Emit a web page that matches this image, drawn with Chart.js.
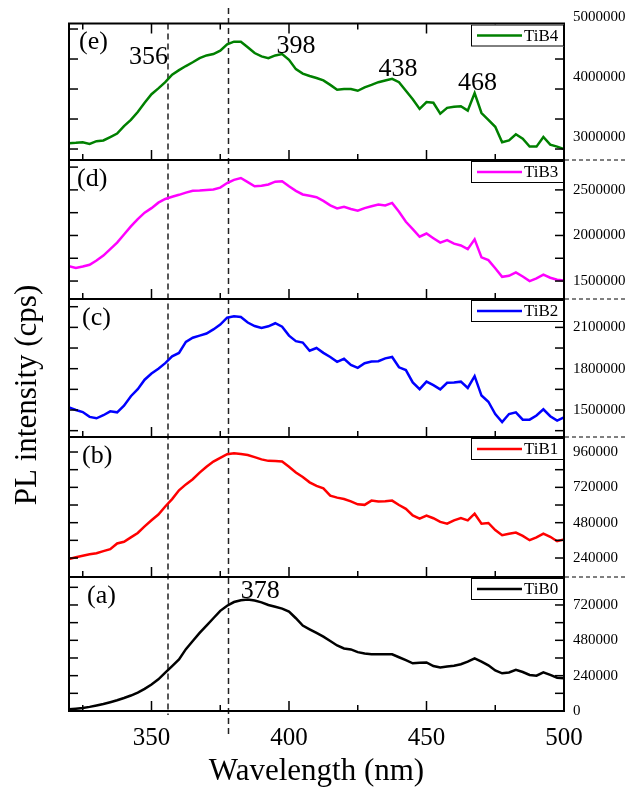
<!DOCTYPE html>
<html>
<head>
<meta charset="utf-8">
<script src="https://cdn.jsdelivr.net/npm/chart.js@4.4.1/dist/chart.umd.min.js"></script>
<style>
  html, body { margin: 0; padding: 0; background: #fff; }
  canvas { display: block; }
</style>
</head>
<body>
<canvas id="c" width="628" height="792"></canvas>
<script>
// ---------------- DATA ----------------
const wavelength = [320,322.5,325,327.5,330,332.5,335,337.5,340,342.5,345,347.5,350,352.5,355,357.5,360,362.5,365,367.5,370,372.5,375,377.5,380,382.5,385,387.5,390,392.5,395,397.5,400,402.5,405,407.5,410,412.5,415,417.5,420,422.5,425,427.5,430,432.5,435,437.5,440,442.5,445,447.5,450,452.5,455,457.5,460,462.5,465,467.5,470,472.5,475,477.5,480,482.5,485,487.5,490,492.5,495,497.5,500];

const tib4 = [2897000,2903000,2914000,2886000,2931000,2943000,3000000,3057000,3183000,3286000,3417000,3571000,3714000,3811000,3914000,4040000,4114000,4183000,4246000,4314000,4360000,4383000,4440000,4543000,4589000,4589000,4497000,4400000,4343000,4314000,4360000,4383000,4286000,4131000,4057000,4017000,3983000,3943000,3869000,3789000,3800000,3800000,3771000,3829000,3869000,3914000,3943000,3971000,3914000,3771000,3629000,3469000,3583000,3571000,3389000,3486000,3503000,3514000,3440000,3731000,3400000,3286000,3171000,2914000,2943000,3046000,2971000,2840000,2840000,3000000,2874000,2840000,2800000];

const tib3 = [1664000,1643000,1660000,1679000,1725000,1779000,1850000,1921000,2010000,2100000,2180000,2250000,2300000,2360000,2400000,2425000,2446000,2470000,2490000,2493000,2500000,2505000,2525000,2575000,2610000,2630000,2585000,2540000,2545000,2560000,2590000,2595000,2540000,2490000,2450000,2435000,2420000,2380000,2330000,2296000,2314000,2290000,2271000,2300000,2321000,2339000,2330000,2357000,2260000,2150000,2070000,1986000,2021000,1970000,1921000,1950000,1910000,1890000,1850000,1957000,1760000,1730000,1640000,1546000,1557000,1595000,1550000,1500000,1530000,1570000,1536000,1515000,1505000];

const tib2 = [1519000,1500000,1485000,1450000,1440000,1462000,1490000,1483000,1531000,1600000,1651000,1720000,1765000,1800000,1840000,1890000,1914000,1995000,2025000,2040000,2055000,2085000,2120000,2170000,2180000,2175000,2135000,2110000,2095000,2108000,2130000,2105000,2040000,2000000,1990000,1930000,1950000,1915000,1885000,1850000,1872000,1828000,1806000,1840000,1852000,1854000,1875000,1885000,1810000,1790000,1700000,1651000,1706000,1680000,1650000,1698000,1700000,1706000,1660000,1746000,1605000,1560000,1470000,1412000,1471000,1483000,1430000,1430000,1460000,1505000,1455000,1423000,1447000];

const tib1 = [233000,245000,255000,265000,272000,287000,300000,339000,350000,380000,410000,455000,496000,535000,590000,640000,700000,740000,775000,820000,860000,895000,920000,945000,951000,946000,940000,925000,910000,900000,899000,895000,860000,821000,790000,754000,730000,713000,664000,650000,641000,625000,605000,601000,630000,624000,625000,630000,600000,574000,529000,507000,528000,510000,485000,473000,496000,511000,496000,541000,473000,478000,430000,395000,405000,413000,390000,361000,380000,406000,384000,354000,366000];

const tib0 = [11000,16000,20000,28000,38000,48000,60000,73000,88000,105000,125000,150000,180000,215000,260000,305000,350000,420000,475000,530000,580000,630000,680000,715000,740000,752000,757000,750000,738000,720000,708000,695000,675000,630000,580000,555000,530000,505000,475000,445000,425000,418000,400000,390000,386000,386000,386000,385000,365000,345000,324000,328000,330000,305000,295000,302000,308000,318000,335000,358000,335000,310000,275000,256000,262000,279000,265000,245000,240000,263000,245000,226000,222000];

const seriesNames  = ['TiB4','TiB3','TiB2','TiB1','TiB0'];
const panelLetters = ['(e)','(d)','(c)','(b)','(a)'];

// x axis ticks and labels
const xTicks       = [325,350,375,400,425,450,475,500];
const xTickLabels  = [350,400,450,500];

// y axis ticks and labels (one small array per panel)
const yTicksE  = [3000000,3500000,4000000,4500000];
const yLabelsE = [3000000,4000000,5000000];
const yTicksD  = [1500000,1750000,2000000,2250000,2500000,2750000];
const yLabelsD = [1500000,2000000,2500000];
const yTicksC  = [1350000,1500000,1650000,1800000,1950000,2100000,2250000];
const yLabelsC = [1500000,1800000,2100000];
const yTicksB  = [120000,240000,360000,480000,600000,720000,840000,960000];
const yLabelsB = [240000,480000,720000,960000];
const yTicksA  = [0,120000,240000,360000,480000,600000,720000,840000];
const yLabelsA = [0,240000,480000,720000];
const tickMarksE = [2800000,3300000,3800000,4300000,4800000];

// annotations
const markerLines  = [356,378];
const peakLabelsE  = ['356','398','438','468'];
const peakXE       = [348.9,402.5,439.6,468.5];
const peakYE       = [4334000,4517000,4134000,3900000];
const peakLabelA   = '378';
const peakXA       = 389.5;
const peakYA       = 815000;

// ---------------- STYLE ----------------
const FONT = "'Liberation Serif', 'Times New Roman', serif";
const colors = ['#008000','#ff00ff','#0000ff','#ff0000','#000000'];
const axisIds = ['yE','yD','yC','yB','yA'];
const ranges = [[2617000,4892000],[1303000,2828000],[1304000,2306000],[111000,1062000],[0,910000]];
const yTickSets = [yTicksE,yTicksD,yTicksC,yTicksB,yTicksA];
const yLabelSets = [yLabelsE,yLabelsD,yLabelsC,yLabelsB,yLabelsA];
const weights = [136.5,139,138,140,134];
const seriesData = [tib4,tib3,tib2,tib1,tib0];

const datasets = seriesData.map((arr, i) => ({
  label: seriesNames[i],
  data: wavelength.map((w, j) => ({x: w, y: arr[j]})),
  yAxisID: axisIds[i],
  borderColor: colors[i],
  borderWidth: 2.5,
  pointRadius: 0,
  tension: 0,
  fill: false
}));

const inList = (v, list) => list.some(t => Math.abs(t - v) < 1e-6 * Math.max(1, Math.abs(t)));

const scales = {
  x: {
    type: 'linear', position: 'bottom', min: 320, max: 500,
    grid: {display: false, drawTicks: false},
    border: {display: false},
    afterBuildTicks: s => { s.ticks = xTicks.map(v => ({value: v})); },
    ticks: {
      autoSkip: false, maxRotation: 0,
      padding: 12, color: '#000', font: {family: FONT, size: 25},
      callback: v => (inList(v, xTickLabels) ? String(Math.round(v)) : '')
    },
    title: {display: true, text: 'Wavelength (nm)', color: '#000',
            font: {family: FONT, size: 31}, padding: {top: 0, bottom: 2}},
    afterFit: s => { s.height = 81; }
  }
};
axisIds.forEach((id, i) => {
  scales[id] = {
    type: 'linear', position: 'right', stack: 'pl', stackWeight: weights[i],
    min: ranges[i][0], max: ranges[i][1],
    grid: {display: false, drawTicks: false},
    border: {display: false},
    afterBuildTicks: s => { s.ticks = yTickSets[i].map(v => ({value: v})); },
    ticks: {
      autoSkip: false, padding: 9,
      color: '#000', font: {family: FONT, size: 15},
      callback: v => (inList(v, yLabelSets[i]) ? String(Math.round(v)) : '')
    },
    afterFit: s => { s.width = 64; }
  };
});

// ---------------- DECORATION PLUGIN ----------------
const decor = {
  id: 'decor',
  beforeDatasetsDraw(chart) {
    const ctx = chart.ctx, ca = chart.chartArea, xs = chart.scales.x;
    ctx.save();
    ctx.strokeStyle = '#222';
    ctx.lineWidth = 1.5;
    ctx.setLineDash([6, 4]);
    const x1 = xs.getPixelForValue(markerLines[0]);
    ctx.beginPath(); ctx.moveTo(x1, ca.top); ctx.lineTo(x1, ca.bottom + 4); ctx.stroke();
    const x2 = xs.getPixelForValue(markerLines[1]);
    ctx.beginPath(); ctx.moveTo(x2, 8); ctx.lineTo(x2, ca.bottom + 23); ctx.stroke();
    ctx.restore();
  },
  afterDatasetsDraw(chart) {
    const ctx = chart.ctx, ca = chart.chartArea, xs = chart.scales.x;
    ctx.save();
    // panel frames
    ctx.strokeStyle = '#000';
    ctx.lineWidth = 2;
    ctx.setLineDash([]);
    axisIds.forEach((id) => {
      const s = chart.scales[id];
      ctx.strokeRect(ca.left, s.top, ca.right - ca.left, s.bottom - s.top);
    });
    // x ticks (inward)
    ctx.lineWidth = 1.5;
    axisIds.forEach((id, i) => {
      const s = chart.scales[id];
      xs.ticks.forEach(t => {
        const v = t.value;
        const px = xs.getPixelForValue(v);
        const len = inList(v, xTickLabels) ? 10 : 6;
        ctx.beginPath(); ctx.moveTo(px, s.bottom); ctx.lineTo(px, s.bottom - len); ctx.stroke();
        if (i === 0) {
          ctx.beginPath(); ctx.moveTo(px, s.top); ctx.lineTo(px, s.top + len); ctx.stroke();
        }
      });
      // y ticks (inward, both sides)
      const vals = (i === 0) ? tickMarksE : s.ticks.map(t => t.value);
      vals.forEach(v => {
        const py = s.getPixelForValue(v);
        if (py < s.top + 2 || py > s.bottom - 2) return;
        ctx.beginPath(); ctx.moveTo(ca.left, py); ctx.lineTo(ca.left + 9, py); ctx.stroke();
        ctx.beginPath(); ctx.moveTo(ca.right, py); ctx.lineTo(ca.right - 9, py); ctx.stroke();
      });
    });
    // right dashed separators
    ctx.lineWidth = 1;
    ctx.setLineDash([4, 3]);
    axisIds.forEach((id, i) => {
      if (i === axisIds.length - 1) return;
      const s = chart.scales[id];
      ctx.beginPath(); ctx.moveTo(ca.right + 1, s.bottom); ctx.lineTo(626, s.bottom); ctx.stroke();
    });
    ctx.setLineDash([]);
    // legends
    axisIds.forEach((id, i) => {
      const s = chart.scales[id];
      const w = 93, h = 22;
      const bx = ca.right - w, by = s.top + 1;
      ctx.fillStyle = '#fff';
      ctx.fillRect(bx, by, w, h);
      ctx.strokeStyle = '#000';
      ctx.lineWidth = 1;
      ctx.strokeRect(bx + 0.5, by + 0.5, w - 1, h - 1);
      ctx.strokeStyle = colors[i];
      ctx.lineWidth = 2.5;
      ctx.beginPath(); ctx.moveTo(bx + 6, by + h / 2); ctx.lineTo(bx + 51, by + h / 2); ctx.stroke();
      ctx.fillStyle = '#000';
      ctx.font = '17px ' + FONT;
      ctx.textAlign = 'left';
      ctx.textBaseline = 'middle';
      ctx.fillText(seriesNames[i], bx + 53, by + h / 2 + 1);
    });
    // panel letters
    ctx.font = '26px ' + FONT;
    ctx.textAlign = 'left';
    ctx.textBaseline = 'middle';
    ctx.fillStyle = '#000';
    const letterX = [79, 77, 82, 82, 87];
    axisIds.forEach((id, i) => {
      const s = chart.scales[id];
      ctx.fillText(panelLetters[i], letterX[i], s.top + 19);
    });
    // peak labels
    ctx.textAlign = 'center';
    const sE = chart.scales.yE, sA = chart.scales.yA;
    peakLabelsE.forEach((t, k) => {
      ctx.fillText(t, xs.getPixelForValue(peakXE[k]), sE.getPixelForValue(peakYE[k]));
    });
    ctx.fillText(peakLabelA, xs.getPixelForValue(peakXA), sA.getPixelForValue(peakYA));
    // tick label of top panel lying above its range
    ctx.font = '15px ' + FONT;
    ctx.textAlign = 'left';
    yLabelsE.forEach(v => {
      if (v > sE.max) ctx.fillText(String(v), ca.right + 9, sE.getPixelForValue(v));
    });
    // y axis title
    ctx.save();
    ctx.translate(28, 395);
    ctx.rotate(-Math.PI / 2);
    ctx.font = '31px ' + FONT;
    ctx.textAlign = 'center';
    ctx.textBaseline = 'middle';
    ctx.fillText('PL intensity (cps)', 0, 0);
    ctx.restore();
    ctx.restore();
  }
};

new Chart(document.getElementById('c'), {
  type: 'line',
  data: {datasets},
  options: {
    responsive: false,
    animation: false,
    devicePixelRatio: 1,
    layout: {padding: {left: 69, top: 23.5, right: 0, bottom: 0}},
    plugins: {legend: {display: false}, tooltip: {enabled: false}, title: {display: false}},
    scales
  },
  plugins: [decor]
});
</script>
</body>
</html>
